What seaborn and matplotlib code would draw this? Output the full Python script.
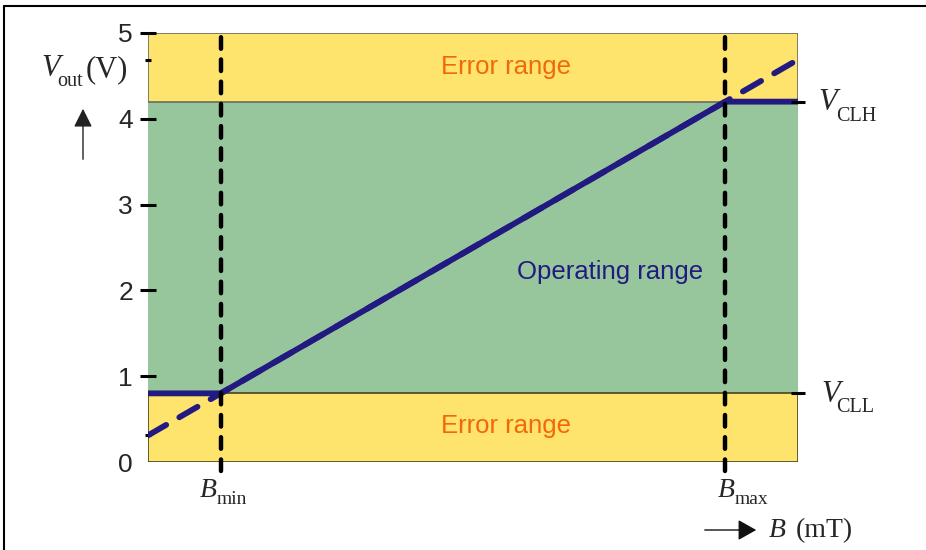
import matplotlib
matplotlib.use("Agg")
import matplotlib.pyplot as plt
import seaborn as sns
from matplotlib.lines import Line2D
from matplotlib.patches import FancyArrowPatch, Rectangle

# ---- data ----
b_limits = [0.0, 10.0]                 # B axis range (arbitrary units)
b_min = 1.12
b_max = 8.88
v_cll = 0.8
v_clh = 4.2
v_range = [0.0, 5.0]
clamped_b = [0.0, b_min, b_max, 10.0]
clamped_v = [0.8, 0.8, 4.2, 4.2]
ideal_b = [0.0, 10.0]
ideal_v = [0.31, 4.69]
band_edges = [0.0, 0.8, 4.2, 5.0]
band_labels = ["Error range", "Operating range", "Error range"]
y_ticks = [1, 2, 3, 4, 5]
y_tick_labels = ["1", "2", "3", "4", "5"]
y_zero_label = "0"
y_minor_ticks = [0.31, 4.69]

# ---- style ----
sns.set_style("white")
plt.rcParams["font.family"] = ["Liberation Sans", "DejaVu Sans"]
SERIF = ["Liberation Serif", "DejaVu Serif"]

YELLOW = "#FEE36C"
GREEN = "#98C69C"
NAVY = "#221A80"
ORANGE = "#F2680A"

W, H = 926, 550
fig = plt.figure(figsize=(W / 100, H / 100), dpi=100)
ax = fig.add_axes([148 / W, 88 / H, 650 / W, 429 / H])
ax.set_axisbelow(False)


def fx(px):
    return px / W


def fy(py):
    return 1 - py / H


def label(x_px, base_px, main, sub, sub_dx, sub_drop, main_size=22, sub_size=14.5):
    fig.text(fx(x_px), fy(base_px), main, fontsize=main_size, family=SERIF,
             style="italic", ha="left", va="baseline")
    fig.text(fx(x_px + sub_dx), fy(base_px + sub_drop), sub, fontsize=sub_size,
             family=SERIF, ha="left", va="baseline")


# bands
band_colors = [YELLOW, GREEN, YELLOW]
for lo, hi, c in zip(band_edges[:-1], band_edges[1:], band_colors):
    ax.axhspan(lo, hi, color=c, zorder=0, lw=0)
ax.add_patch(Rectangle((b_limits[0], band_edges[0]), b_limits[1] - b_limits[0],
                       band_edges[1] - band_edges[0], fill=False,
                       edgecolor="#4a4420", lw=1.2, zorder=1))
ax.add_patch(Rectangle((b_limits[0], band_edges[2]), b_limits[1] - b_limits[0],
                       band_edges[3] - band_edges[2], fill=False,
                       edgecolor="#6a6a60", lw=1.2, zorder=1))

# lines
sns.lineplot(x=ideal_b, y=ideal_v, ax=ax, color=NAVY, linewidth=4.2,
             linestyle=(0, (3.6, 2.6)), dash_capstyle="round", zorder=3)
sns.lineplot(x=clamped_b, y=clamped_v, ax=ax, color=NAVY, linewidth=4.2,
             zorder=4, solid_capstyle="butt")

# vertical dashed markers
for bx in [b_min, b_max]:
    ax.plot([bx, bx], [-0.1, 5.0], color="black", lw=3.2,
            linestyle=(0, (2.6, 2.4)), dash_capstyle="round",
            clip_on=False, zorder=5)

# band texts
ax.text(5.51, 4.6, band_labels[2], color=ORANGE, fontsize=18.5, ha="center", va="center")
ax.text(5.51, 0.42, band_labels[0], color=ORANGE, fontsize=18.5, ha="center", va="center")
ax.text(7.11, 2.22, band_labels[1], color=NAVY, fontsize=18.5, ha="center", va="center")

ax.set_xlim(*b_limits)
ax.set_ylim(*v_range)
for s in ax.spines.values():
    s.set_visible(False)

# y ticks (left)
ax.set_yticks(y_ticks)
ax.set_yticklabels(y_tick_labels, fontsize=19)
ax.tick_params(axis="y", which="major", direction="inout", length=11.5, width=2.2,
               pad=5, color="black", left=True)
ax.set_yticks(y_minor_ticks, minor=True)
ax.tick_params(axis="y", which="minor", direction="inout", length=5, width=2.2,
               color="black")
ax.annotate(y_zero_label, xy=(0, 0), xycoords=ax.get_yaxis_transform(),
            xytext=(-10.75, 0), textcoords="offset points", ha="right",
            va="center_baseline", fontsize=19)

# x ticks (labels drawn as text below)
ax.set_xticks([b_min, b_max])
ax.set_xticklabels(["", ""])
ax.tick_params(axis="x", length=0)

# right ticks
axr = ax.twinx()
axr.set_axisbelow(False)
axr.set_ylim(*v_range)
for s in axr.spines.values():
    s.set_visible(False)
axr.set_yticks([v_cll, v_clh])
axr.set_yticklabels(["", ""])
axr.tick_params(axis="y", direction="inout", length=9.5, width=2.2,
                color="black", right=True)

# serif labels
label(200, 497, "B", "min", 17, 7, main_size=20, sub_size=14)
label(718, 497, "B", "max", 17, 7, main_size=20, sub_size=14)
label(818, 110, "V", "CLH", 18, 11)
label(821, 402, "V", "CLL", 15, 10)
label(41, 76, "V", "out", 16, 10)
fig.text(fx(86), fy(77), "(V)", fontsize=22, family=SERIF, ha="left", va="baseline")

# y arrow
fig.add_artist(FancyArrowPatch(
    (fx(83), fy(162)), (fx(83), fy(106)), transform=fig.transFigure,
    arrowstyle="-|>,head_length=0.8,head_width=0.4", mutation_scale=14,
    color="#222222", lw=1))

# x label and arrow
fig.add_artist(FancyArrowPatch(
    (fx(702), fy(530)), (fx(759), fy(530)), transform=fig.transFigure,
    arrowstyle="-|>,head_length=0.8,head_width=0.45", mutation_scale=14,
    color="#111111", lw=1))
fig.text(fx(769), fy(537), "B", fontsize=20, family=SERIF, style="italic",
         ha="left", va="baseline")
fig.text(fx(796), fy(537), "(mT)", fontsize=20, family=SERIF, ha="left", va="baseline")

# figure frame (top and left)
fig.add_artist(Line2D([fx(4), 1], [fy(6), fy(6)], color="black", lw=1.5,
                      transform=fig.transFigure))
fig.add_artist(Line2D([fx(4), fx(4)], [0, fy(6)], color="black", lw=1.5,
                      transform=fig.transFigure))

fig.savefig("out.png", dpi=100)
